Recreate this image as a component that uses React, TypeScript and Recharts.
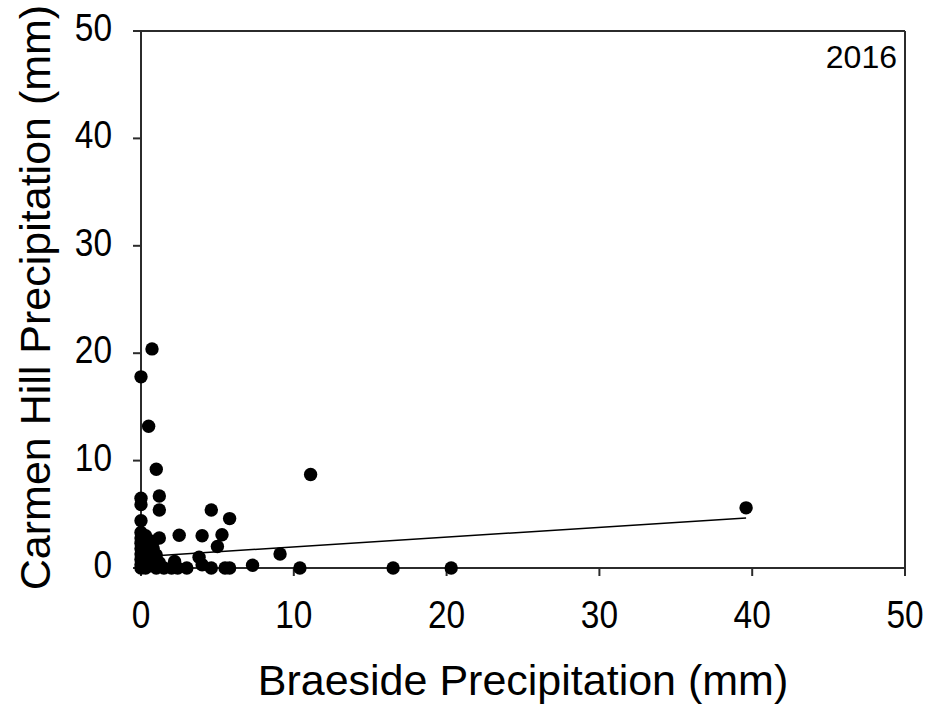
import {
  ScatterChart,
  Scatter,
  XAxis,
  YAxis,
  ReferenceLine,
  Label,
} from "recharts";

// Braeside (x) vs Carmen Hill (y) daily precipitation, 2016, mm
const braeside = [
  0, 0, 0, 0, 0, 0, 0, 0, 0, 0, 0, 0,
  0.3, 0.3, 0.3, 0.3, 0.3,
  0.5, 0.5, 0.5,
  0.72,
  0.8, 0.8, 0.8,
  1.0, 1.0, 1.0,
  1.2, 1.2, 1.2, 1.2,
  1.5, 2.0, 2.2, 2.4, 2.5, 3.0, 3.8,
  4.0, 4.0, 4.6, 4.6, 5.0, 5.3, 5.5, 5.8, 5.8,
  7.3, 9.1, 10.4, 11.1, 16.5, 20.3, 39.6,
];
const carmenHill = [
  0, 0.3, 0.8, 1.3, 1.8, 2.3, 2.8, 3.3, 4.4, 5.9, 6.5, 17.8,
  0, 0.6, 1.5, 2.2, 3.0,
  13.2, 0.2, 1.0,
  20.4,
  0.3, 1.8, 2.5,
  9.2, 0, 1.2,
  6.7, 5.4, 2.8, 0.5,
  0, 0, 0.6, 0, 3.05, 0, 1.0,
  3.0, 0.3, 5.4, 0, 2.0, 3.1, 0, 4.6, 0,
  0.25, 1.3, 0, 8.7, 0, 0, 5.6,
];

// regression line end points
const fitX = [0, 39.6];
const fitY = [1.05, 4.66];

const ticks = [0, 10, 20, 30, 40, 50];

const points = braeside.map((x, i) => ({ x, y: carmenHill[i] }));
const fitLine = fitX.map((x, i) => ({ x, y: fitY[i] }));

const font = '"Liberation Sans", Arial, sans-serif';
const axisColor = "#2b2b2b";

const Dot = (p: any) => <circle cx={p.cx} cy={p.cy} r={6.7} fill="#000" />;

// slightly condensed tick text, like the original
const XTick = (p: any) => (
  <text
    transform={`translate(${p.x},${p.y + 27}) scale(0.88,1)`}
    textAnchor="middle"
    fontSize={38}
    fontFamily={font}
    fill="#000"
  >
    {p.payload.value}
  </text>
);

const YTick = (p: any) => (
  <text
    transform={`translate(${p.x},${p.y + 10}) scale(0.88,1)`}
    textAnchor="end"
    fontSize={38}
    fontFamily={font}
    fill="#000"
  >
    {p.payload.value}
  </text>
);

export default function App() {
  return (
    <div
      style={{
        position: "absolute",
        left: 0,
        top: 0,
        width: 927,
        height: 705,
        background: "#fff",
        fontFamily: font,
      }}
    >
      <ScatterChart
        width={927}
        height={705}
        margin={{ top: 31, right: 22, bottom: 0, left: 0 }}
      >
        <XAxis
          type="number"
          dataKey="x"
          domain={[0, 50]}
          ticks={ticks}
          height={137}
          tickSize={8}
          tickMargin={25}
          stroke={axisColor}
          strokeWidth={2}
          tick={XTick}
        >
          <Label
            content={(props: any) => {
              const vb = props.viewBox;
              return (
                <text
                  x={vb.x + vb.width / 2}
                  y={vb.y + 127}
                  textAnchor="middle"
                  fontSize={43}
                  fontFamily={font}
                  fill="#000"
                >
                  Braeside Precipitation (mm)
                </text>
              );
            }}
          />
        </XAxis>
        <YAxis
          type="number"
          dataKey="y"
          domain={[0, 50]}
          ticks={ticks}
          width={141}
          tickSize={8}
          tickMargin={21}
          stroke={axisColor}
          strokeWidth={2}
          tick={YTick}
        >
          <Label
            content={(props: any) => {
              const vb = props.viewBox;
              const cx = vb.x + 35;
              const cy = vb.y + vb.height / 2 - 2;
              return (
                <text
                  x={cx}
                  y={cy}
                  transform={`rotate(-90 ${cx} ${cy})`}
                  textAnchor="middle"
                  dominantBaseline="central"
                  fontSize={43}
                  fontFamily={font}
                  fill="#000"
                >
                  Carmen Hill Precipitation (mm)
                </text>
              );
            }}
          />
        </YAxis>
        <ReferenceLine y={50} stroke={axisColor} strokeWidth={2} />
        <ReferenceLine x={50} stroke={axisColor} strokeWidth={2} />
        <Scatter
          data={fitLine}
          line={{ stroke: "#000", strokeWidth: 1.5 }}
          shape={() => <g />}
          isAnimationActive={false}
        />
        <Scatter data={points} shape={Dot} isAnimationActive={false} />
      </ScatterChart>
      <div
        style={{
          position: "absolute",
          top: 41,
          right: 927 - 897,
          fontSize: 32,
          lineHeight: "32px",
          color: "#000",
        }}
      >
        2016
      </div>
    </div>
  );
}
